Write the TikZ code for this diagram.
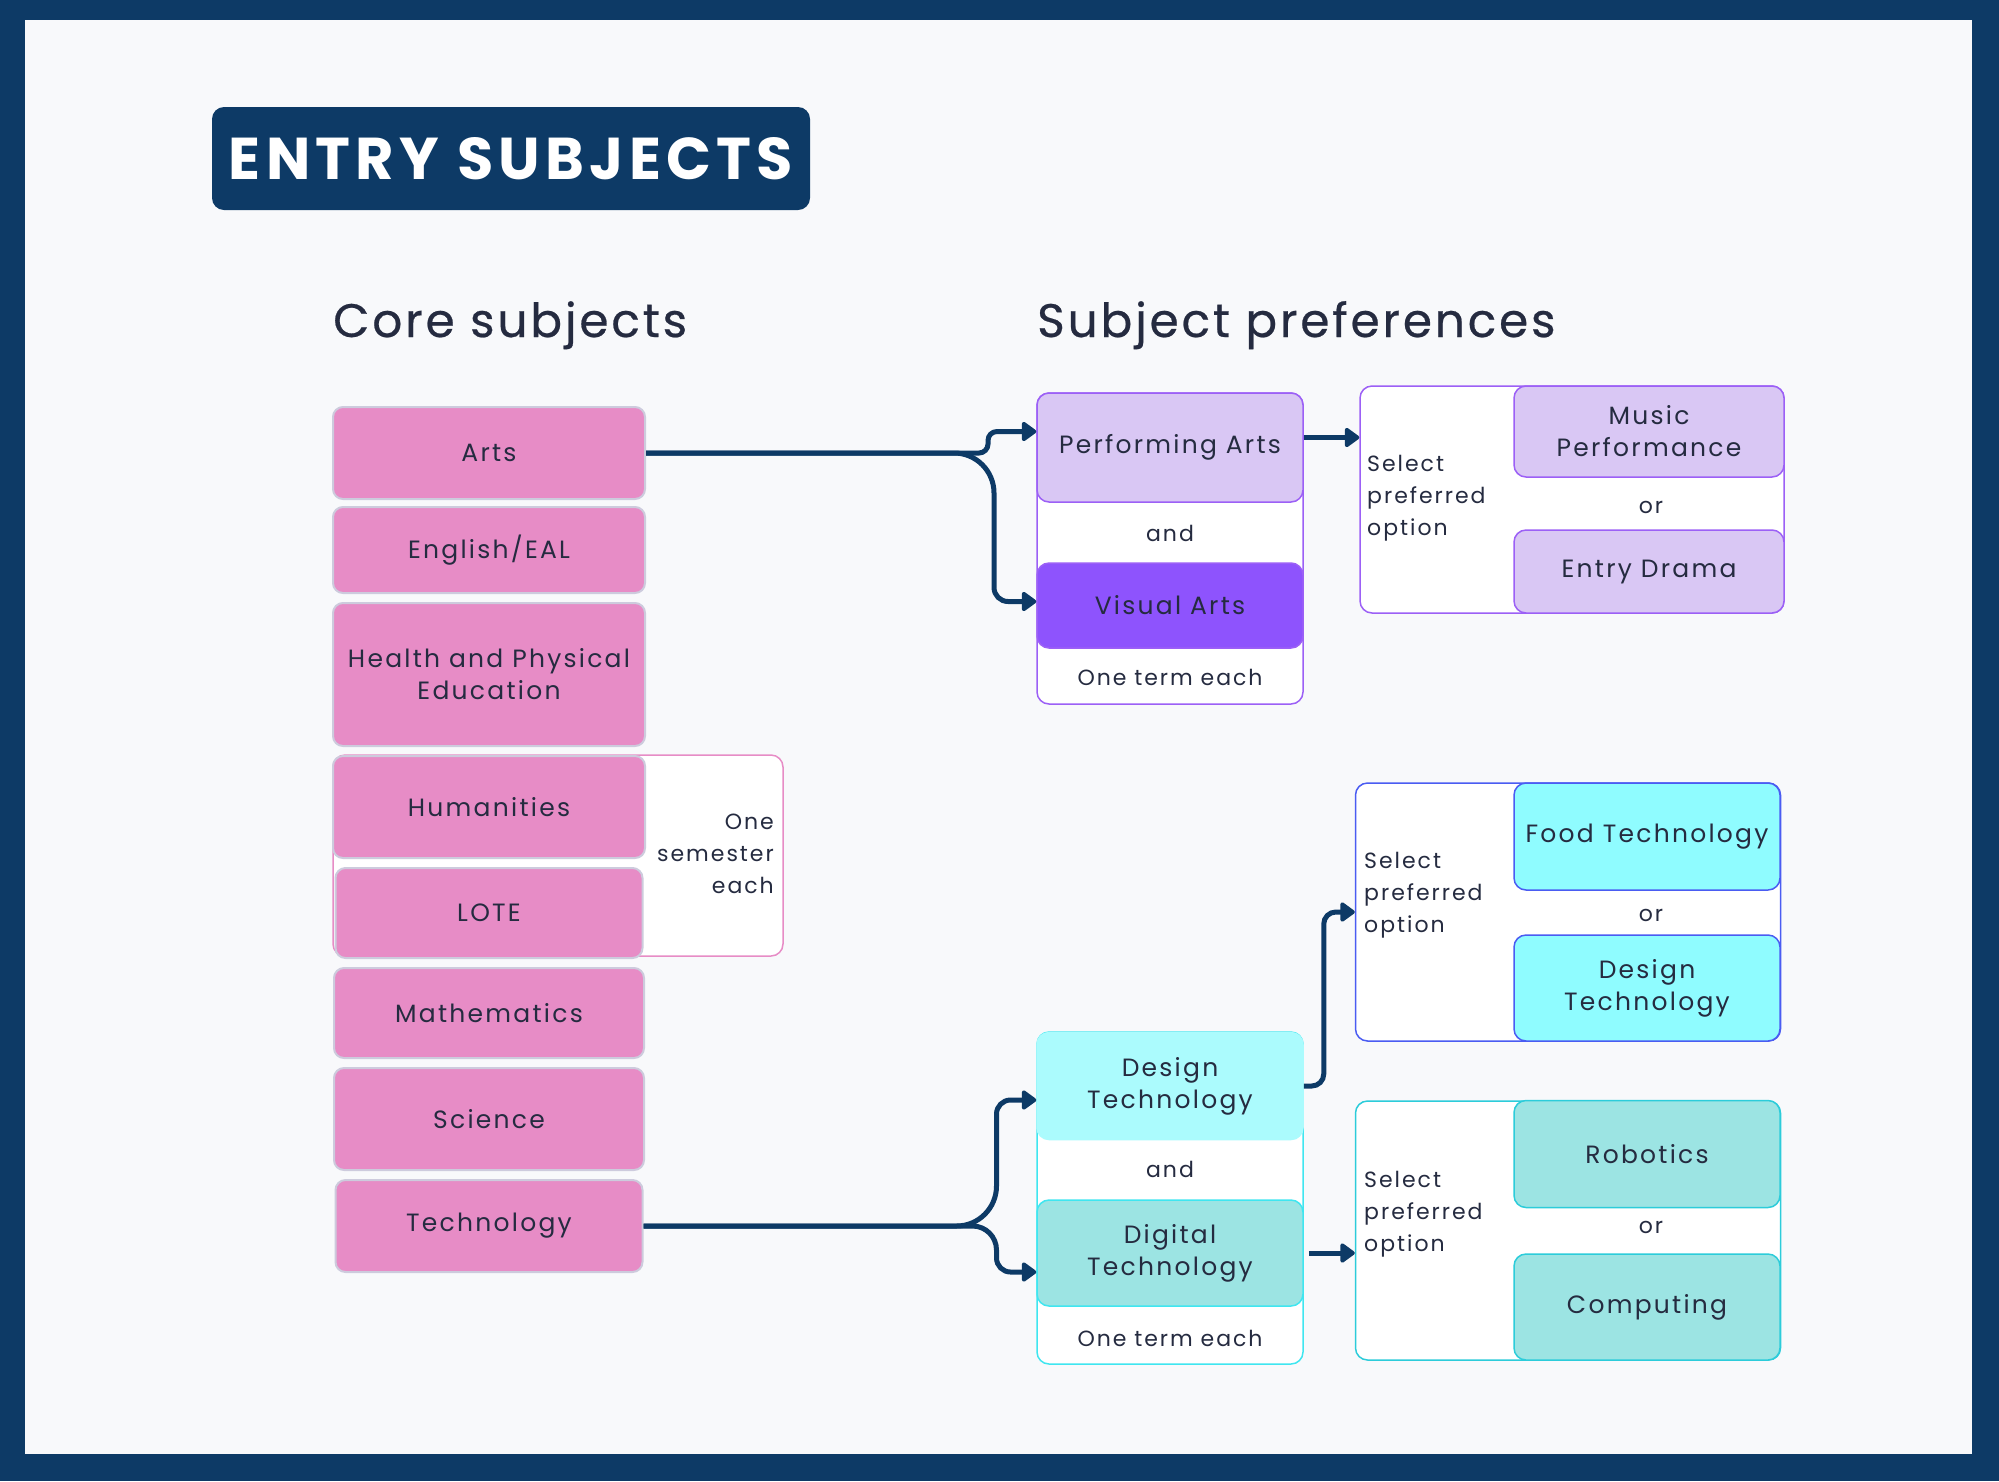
\documentclass[tikz,border=0pt]{standalone}
\usepackage{fontspec}
\setmainfont{Poppins}[LetterSpace=9]
\newfontfamily\headfont{Poppins}[LetterSpace=6,FakeBold=0.5]
\usepackage{tikz}
\usetikzlibrary{positioning,arrows.meta}
\usepackage{xcolor}
\definecolor{navy}{HTML}{0D3A66}
\definecolor{ink}{HTML}{252B40}
\definecolor{pagebg}{HTML}{F8F9FB}
\definecolor{corepink}{HTML}{E78CC6}
\definecolor{coreline}{HTML}{CDCBDD}
\definecolor{lilac}{HTML}{D9C7F4}
\definecolor{violet}{HTML}{8E53FD}
\definecolor{violetline}{HTML}{9C60F6}
\definecolor{aqua}{HTML}{ABFBFD}
\definecolor{aqualine}{HTML}{3FE6F0}
\definecolor{teal}{HTML}{9CE4E3}
\definecolor{tealline}{HTML}{2CCCDA}
\definecolor{cyanfill}{HTML}{8FFCFF}
\definecolor{blueline}{HTML}{4A5CF2}

\begin{document}
\begin{tikzpicture}[x=1pt,y=-1pt,node distance=8pt,text=ink,
  font=\fontsize{25}{32}\selectfont,
  core/.style={draw=coreline,line width=2pt,rounded corners=10pt,fill=corepink,minimum width=312pt,inner sep=0pt,align=center},
  grp/.style={draw,line width=1.5pt,rounded corners=12pt,fill=white,inner sep=0pt},
  opt/.style={line width=1.5pt,rounded corners=12pt,minimum width=266pt,inner sep=0pt,align=center},
  small/.style={font=\fontsize{22}{32}\selectfont,inner sep=0pt},
  head/.style={anchor=base west,font=\headfont\fontsize{47}{50}\selectfont,inner sep=0pt},
  link/.style={draw=navy,line width=5pt,-{Triangle[length=16pt,width=22pt,round]}}]
% frame
\fill[navy] (0,0) rectangle (1999,1481);
\fill[pagebg] (25,20) rectangle (1972,1454);

\node[fill=navy,rounded corners=12pt,minimum width=598pt,minimum height=103pt,text=white,
  font=\bfseries\fontsize{59}{62}\selectfont] (title) at (511,158.5) {ENTRY SUBJECTS};
\node[head] (corehd) at (333,337) {Core subjects};
\node[head] (prefhd) at (1037,337) {Subject preferences};

% core subjects
\node[grp,draw=corepink,minimum width=450pt,minimum height=201pt] (semgrp) at (558,855.5) {};
\node[small,align=right,anchor=east] (semtxt) at (774,854) {One\\semester\\each};
\node[core,minimum height=92pt] (arts) at (489,453) {Arts};
\node[core,minimum height=86pt,below=6pt of arts] (eng) {English/EAL};
\node[core,minimum height=143pt,below=of eng] (hpe) {Health and Physical\\Education};
\node[core,minimum height=102pt,below=of hpe] (hum) {Humanities};
\node[core,minimum height=90pt,minimum width=307pt,below=of hum] (lote) {LOTE};
\node[core,minimum height=90pt,minimum width=310pt,below=of lote] (math) {Mathematics};
\node[core,minimum height=102pt,minimum width=310pt,below=of math] (sci) {Science};
\node[core,minimum height=92pt,minimum width=307pt,below=of sci] (tech) {Technology};

% arts preferences
\node[grp,draw=violetline,minimum width=266pt,minimum height=311pt] (pagrp) at (1170,548.5) {};
\node[opt,draw=violetline,fill=lilac,minimum height=109pt] (pa) at (1170,447.5) {Performing Arts};
\node[small] (paand) at (1170,533) {and};
\node[opt,draw=violetline,fill=violet,minimum height=85pt] (va) at (1170,605.5) {Visual Arts};
\node[small] (paterm) at (1170,677) {One term each};

\node[grp,draw=violetline,minimum width=424pt,minimum height=227pt] (sel1) at (1572,499.5) {};
\node[small,align=left,anchor=west] (sel1txt) at (1367,498.5) {Select\\preferred\\option};
\node[opt,draw=violetline,fill=lilac,minimum width=270pt,minimum height=91pt] (music) at (1649,431.5) {Music\\Performance};
\node[small] (sel1or) at (1651,507) {or};
\node[opt,draw=violetline,fill=lilac,minimum width=270pt,minimum height=83pt] (drama) at (1649,571.5) {Entry Drama};

% technology preferences
\node[grp,draw=aqualine,minimum width=266pt,minimum height=332pt] (dtgrp) at (1170,1198) {};
\node[opt,draw=aqua,fill=aqua,minimum height=107pt] (dt) at (1170,1086) {Design\\Technology};
\node[small] (dtand) at (1170,1169) {and};
\node[opt,draw=aqualine,fill=teal,minimum height=106pt] (digt) at (1170,1253) {Digital\\Technology};
\node[small] (dtterm) at (1170,1338) {One term each};

\node[grp,draw=blueline,minimum width=425pt,minimum height=258pt] (sel2) at (1568,912) {};
\node[small,align=left,anchor=west] (sel2txt) at (1364,895) {Select\\preferred\\option};
\node[opt,draw=blueline,fill=cyanfill,minimum height=107pt] (food) at (1647,836.5) {Food Technology};
\node[small] (sel2or) at (1651,915) {or};
\node[opt,draw=blueline,fill=cyanfill,minimum height=106pt] (dtopt) at (1647,988) {Design\\Technology};

\node[grp,draw=tealline,minimum width=425pt,minimum height=259pt] (sel3) at (1568,1230.5) {};
\node[small,align=left,anchor=west] (sel3txt) at (1364,1214) {Select\\preferred\\option};
\node[opt,draw=tealline,fill=teal,minimum height=107pt] (robo) at (1647,1154) {Robotics};
\node[small] (sel3or) at (1651,1227) {or};
\node[opt,draw=tealline,fill=teal,minimum height=106pt] (comp) at (1647,1307) {Computing};

% connectors
\draw[link,rounded corners=9pt] (arts.east) -- ++(342,0) |- ([yshift=16pt]pa.west);
\draw[link] (arts.east) [rounded corners=40pt] -- ++(348,0) [rounded corners=14pt] |- ([yshift=4pt]va.west);
\draw[link] ([yshift=10pt]pa.east) -- ([yshift=10pt]pa.east -| sel1.west);
\draw[link] (tech.east) [rounded corners=40pt] -- ++(353,0) [rounded corners=14pt] |- ([yshift=-14pt]dt.west);
\draw[link] (tech.east) [rounded corners=24pt] -- ++(353,0) [rounded corners=14pt] |- ([yshift=-19pt]digt.west);
\draw[link,rounded corners=12pt] (dt.east) -- ++(20,0) |- (sel2.west);
\draw[link] ([xshift=5pt]digt.east) -- (digt.east -| sel3.west);
\end{tikzpicture}
\end{document}
